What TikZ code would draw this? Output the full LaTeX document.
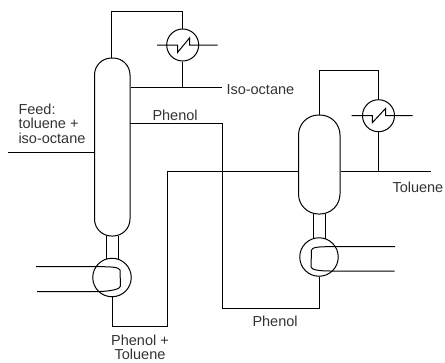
\documentclass[tikz,border=0pt]{standalone}
\usepackage{fontspec}
\setmainfont{Liberation Sans}
\begin{document}
\begin{tikzpicture}[
		x=1pt,y=-1pt,
		line width=1pt,
		column/.style={draw,rectangle,rounded corners=17pt,inner sep=0pt,minimum width=#1},
		exchanger/.style={draw,circle,inner sep=0pt,minimum size=32pt},
		reboiler/.style={draw,circle,inner sep=0pt,minimum size=38.5pt},
		label/.style={inner sep=0pt,text=black!80,font=\fontsize{14.5}{14.5}\selectfont}
	]
	\useasboundingbox (0,0) rectangle (445,362);
	% first column
	\node[column=35.5pt,minimum height=178pt] (col1) at (112.25,147) {};
	\node[reboiler] (reb1) at (112,277.5) {};
	\node[exchanger] (cond1) at (182.7,45) {};
	% second column
	\node[column=41.5pt,minimum height=99pt,rounded corners=20pt] (col2) at (319.25,164.5) {};
	\node[reboiler] (reb2) at (319,257) {};
	\node[exchanger] (cond2) at (378.5,115.7) {};

	\coordinate (feedin) at (8,152.5);
	\coordinate (top1) at (111.2,11.5);
	\coordinate (top2) at (319.25,70);
	\coordinate (iso) at (222,87);
	\coordinate (tol) at (430.7,171);
	\coordinate (c1w) at (157,45);
	\coordinate (c1e) at (217.5,45);
	\coordinate (c2w) at (351.7,115.7);
	\coordinate (c2e) at (412.7,115.7);
	\coordinate (ph1) at (130,123);
	\coordinate (ph2) at (222,308);
	\coordinate (mix1) at (112,326.7);
	\coordinate (mix2) at (167,171.5);

	\draw (feedin) -- (feedin -| col1.west);
	\draw (top1 |- col1.north) -- (top1) -| (cond1.north);
	\draw (cond1.south) -- (cond1.south |- iso);
	\draw (iso -| col1.east) -- (iso);
	\draw (col2.north) -- (top2) -| (cond2.north);
	\draw (cond2.south) -- (cond2.south |- tol);
	\draw (tol -| col2.east) -- (tol);

	% phenol recycle
	\draw (ph1) -| (ph2) -| (reb2.south);
	\draw (reb1.south) -- (mix1) -| (mix2) -- (mix2 -| col2.west);

	% necks
	\draw (106,236) -- (106,259) (118,236) -- (118,259);
	\draw (313.7,214) -- (313.7,238.5) (325.7,214) -- (325.7,238.5);

	% tube bundles
	\draw (36,266.7) -- (100,266.7) .. controls (110,266.7) and (119,267) .. (120,270)
		-- (120.5,286) .. controls (120.5,289) and (112,291) .. (100,291.5) -- (37,291.5);
	\draw (395,246.7) -- (330,246.7) .. controls (320,246.7) and (312,247) .. (311.5,250)
		-- (311,267) .. controls (311.5,270) and (320,271) .. (330,271) -- (394.5,271);

	% zigzags
	\draw (c1w) -- (177.5,45) -- (177.5,52.5) -- (189.5,38) -- (189.5,45) -- (c1e);
	\draw (c2w) -- (372.3,115.7) -- (372.3,122.7) -- (385.7,108.3) -- (385.7,115.7) -- (c2e);

	\node[label,anchor=west,align=left] (feed) at (18,123.5) {Feed:\\[0pt]toluene +\\[0pt]iso-octane};
	\node[label,anchor=west] (isolab) at (226,90) {Iso-octane};
	\node[label,anchor=west] (phen1) at (152,115) {Phenol};
	\node[label,anchor=west] (tollab) at (392,187) {Toluene};
	\node[label,anchor=west] (phen2) at (252,321) {Phenol};
	\node[label,align=center] (mixlab) at (140,347.5) {Phenol +\\[0pt]Toluene};
\end{tikzpicture}
\end{document}
